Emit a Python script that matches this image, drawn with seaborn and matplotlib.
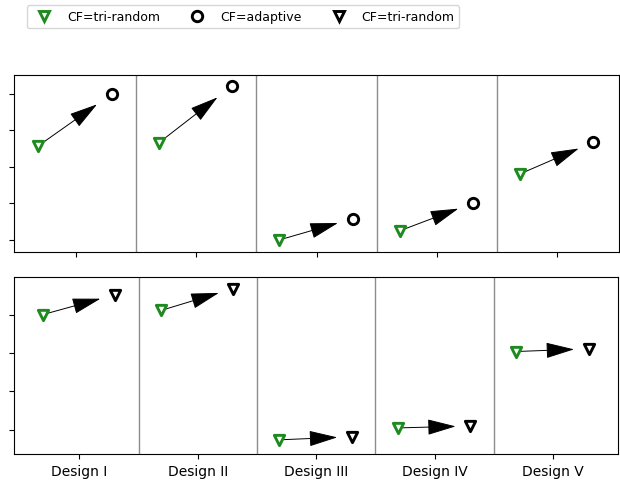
import numpy as np
import seaborn as sns
import matplotlib.pyplot as plt
from matplotlib.lines import Line2D

designs = ['Design I', 'Design II', 'Design III', 'Design IV', 'Design V']
# top panel: tri-random start -> adaptive
top_start = [2.58, 2.66, 0.00, 0.25, 1.81]
top_adaptive = [4.00, 4.22, 0.58, 1.01, 2.68]
# bottom panel: tri-random start -> tri-random
bot_start = [3.00, 3.11, -0.26, 0.05, 2.04]
bot_end = [3.52, 3.68, -0.18, 0.10, 2.11]

green = '#1f8a1f'
x = np.arange(len(designs))
x_left = x - 0.31
x_right = x + 0.30

fig = plt.figure(figsize=(6.2, 4.81), dpi=100)
ax_top = fig.add_axes([0.023, 0.474, 0.975, 0.368])
ax_bot = fig.add_axes([0.023, 0.054, 0.974, 0.368])


def draw_panel(ax, y0, y1, end_marker):
    for i in range(len(designs)):
        tip_x = x_left[i] + 0.8 * (x_right[i] - x_left[i])
        tip_y = y0[i] + 0.8 * (y1[i] - y0[i])
        ax.annotate('', xy=(tip_x, tip_y), xytext=(x_left[i], y0[i]),
                    arrowprops=dict(arrowstyle='-|>,head_length=0.9,head_width=0.25',
                                    mutation_scale=20, color='black', lw=0.7,
                                    shrinkA=0, shrinkB=0),
                    zorder=2)
    sns.scatterplot(x=x_left, y=y0, marker='v', s=55, facecolor='white',
                    edgecolor=green, linewidth=2.1, ax=ax, zorder=3)
    sns.scatterplot(x=x_right, y=y1, marker=end_marker, s=55, facecolor='white',
                    edgecolor='black', linewidth=2.1, ax=ax, zorder=3)
    for b in x[:-1] + 0.5:
        ax.axvline(b, color='#8c8c8c', lw=1, zorder=1)
    ax.set_xticks(x)
    ax.tick_params(axis='y', labelleft=False)
    ax.set_xlabel('')
    ax.set_ylabel('')


draw_panel(ax_top, top_start, top_adaptive, 'o')
ax_top.set_xlim(-0.51, 4.51)
ax_top.set_ylim(-0.33, 4.52)
ax_top.set_yticks([0, 1, 2, 3, 4])
ax_top.set_xticklabels([])

draw_panel(ax_bot, bot_start, bot_end, 'v')
ax_bot.set_xlim(-0.55, 4.55)
ax_bot.set_ylim(-0.63, 3.98)
ax_bot.set_yticks([0, 1, 2, 3])
ax_bot.set_xticklabels(designs, fontsize=10)

handles = [
    Line2D([], [], ls='none', marker='v', ms=7.5, mfc='white', mec=green, mew=2.1),
    Line2D([], [], ls='none', marker='o', ms=7.5, mfc='white', mec='black', mew=2.1),
    Line2D([], [], ls='none', marker='v', ms=7.5, mfc='white', mec='black', mew=2.1),
]
fig.legend(handles, ['CF=tri-random', 'CF=adaptive', 'CF=tri-random'],
           loc='upper center', bbox_to_anchor=(243 / 620, 1.0), ncol=3,
           fontsize=9, frameon=True)

fig.savefig('out.png', dpi=100)
